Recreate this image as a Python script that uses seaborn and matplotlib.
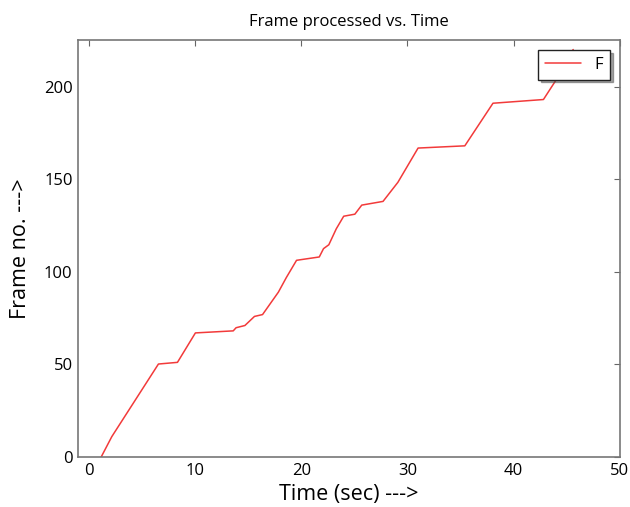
import matplotlib
matplotlib.use("Agg")
import matplotlib.pyplot as plt
import seaborn as sns
import pandas as pd

# Data
time_sec = [1.17, 2.17, 6.56, 8.35, 10.04, 13.6, 13.87, 14.7, 15.6, 16.36, 17.85,
            18.6, 19.56, 21.7, 22.1, 22.6, 23.3, 24.0, 25.05, 25.7, 27.7, 29.1,
            31.0, 35.4, 38.05, 42.8, 44.3, 45.6]
frames = [0, 11, 50.2, 51.1, 67, 68.1, 69.8, 71, 75.9, 76.9, 89,
          96.9, 106.2, 108, 112.5, 114.6, 123.2, 130, 131.1, 136, 138, 148.3,
          166.8, 168, 191, 193, 206.3, 220]
series_label = "F"
x_ticks = [0, 10, 20, 30, 40, 50]
y_ticks = [0, 50, 100, 150, 200]

df = pd.DataFrame({"Time": time_sec, "Frame": frames, "series": series_label})

sns.set_style("white")
plt.rcParams["font.family"] = ["Open Sans", "DejaVu Sans"]
plt.rcParams["text.color"] = "black"

fig = plt.figure(figsize=(6.3, 5.07), dpi=100)
ax = fig.add_axes([0.124, 0.0986, 0.86, 0.822])

sns.lineplot(data=df, x="Time", y="Frame", hue="series", palette=["#f23a3a"],
             linewidth=1.1, ax=ax, sort=False, estimator=None)

ax.set_xlim(-1, 50)
ax.set_ylim(0, 225)
ax.set_xticks(x_ticks)
ax.set_yticks(y_ticks)
ax.tick_params(direction="in", top=True, right=True, length=4, width=0.8,
               labelsize=12, labelcolor="black", color="#666666", pad=4)
for s in ax.spines.values():
    s.set_visible(True)
    s.set_color("#777777")
    s.set_linewidth(1.2)

ax.set_title("Frame processed vs. Time", fontsize=12, pad=10, color="black")
ax.set_xlabel("Time (sec) --->", fontsize=15.5, labelpad=4, color="black")
ax.set_ylabel("Frame no. --->", fontsize=15.5, labelpad=9, color="black")

leg = ax.legend(loc="upper right", fontsize=12, frameon=True, fancybox=False,
                shadow=True, borderpad=0.4, handlelength=2.2,
                borderaxespad=0.6)
leg.get_frame().set_edgecolor("#222222")
leg.get_frame().set_linewidth(1.0)
for t in leg.get_texts():
    t.set_color("black")

fig.savefig("out.png", dpi=100, facecolor="white")
